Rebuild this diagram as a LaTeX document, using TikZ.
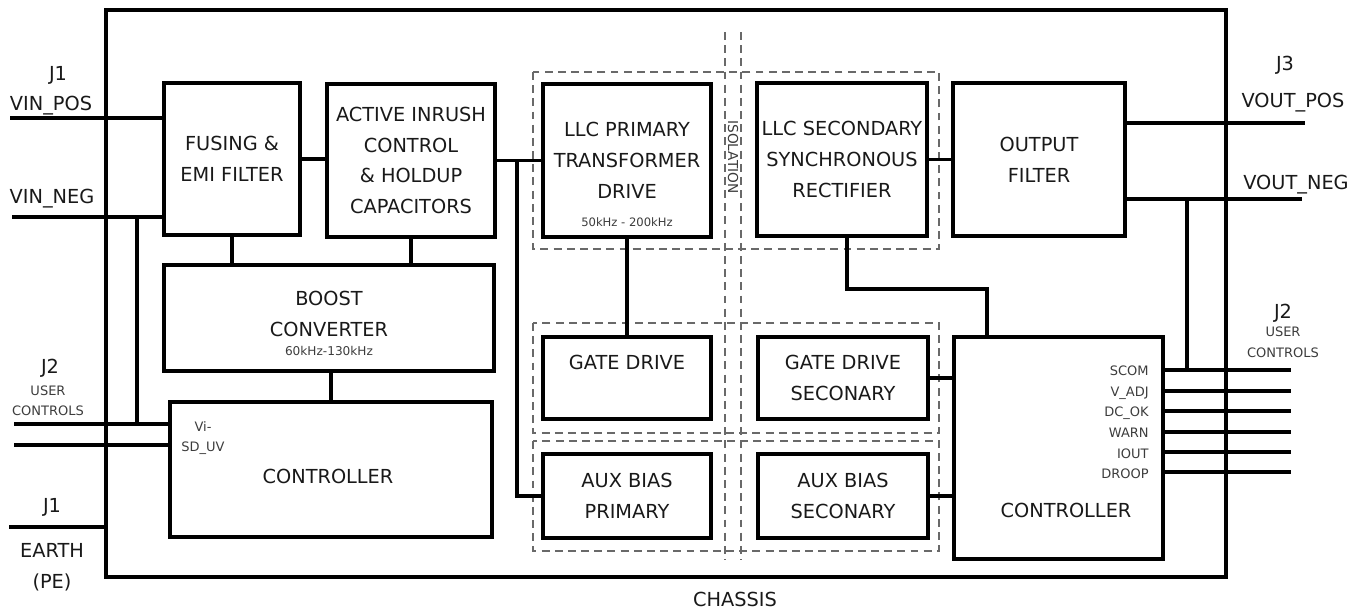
\documentclass[tikz,border=0pt]{standalone}
\usepackage{fontspec}
\setmainfont{DejaVu Sans}
\usetikzlibrary{positioning}
\definecolor{WireBlack}{RGB}{0,0,0}
\definecolor{TextBlack}{RGB}{25,25,25}
\definecolor{IsoGray}{RGB}{105,105,105}
\definecolor{LabelGray}{RGB}{60,60,60}

\begin{document}
\begin{tikzpicture}[
        x=0.02cm, y=-0.02cm,
        block/.style={
            draw=WireBlack,
            line width=1.9pt,
            rectangle,
            inner sep=0pt,
            outer sep=0pt,
            text=TextBlack,
            align=center,
            font=\fontsize{11}{17.6}\selectfont
        },
        wire/.style={draw=WireBlack, line width=1.9pt},
        isoline/.style={draw=IsoGray, line width=0.6pt, dash pattern=on 4.5pt off 3pt},
        pinlbl/.style={inner sep=0pt, anchor=base, text=TextBlack, font=\fontsize{11}{12}\selectfont},
        smalltxt/.style={inner sep=0pt, anchor=base, text=LabelGray, font=\fontsize{7.4}{8}\selectfont}
    ]
        \useasboundingbox (0,0) rectangle (1363,612);

        \draw[isoline] (533,72) rectangle (939,249);
        \draw[isoline] (533,323) rectangle (939,433);
        \draw[isoline] (533,441) rectangle (939,551);
        \draw[isoline] (725,32) -- (725,560);
        \draw[isoline] (741,32) -- (741,560);
        \node[smalltxt, anchor=center, rotate=-90, font=\fontsize{7.8}{8}\selectfont] (isotxt) at (733,157) {ISOLATION};

        \node[block, minimum width=22.4cm, minimum height=11.34cm] (chassis) at (666,293.5) {};
        \node[pinlbl] (chassistxt) at (735,606) {CHASSIS};

        \node[block, minimum width=2.72cm, minimum height=3.04cm] (fuse) at (232,159) {FUSING \&\\EMI FILTER};
        \node[block, minimum width=3.36cm, minimum height=3.06cm] (inrush) at (411,160.5) {ACTIVE INRUSH\\CONTROL\\\& HOLDUP\\CAPACITORS};
        \node[block, minimum width=6.6cm, minimum height=2.12cm, text depth=4.5pt,
            label={[smalltxt, yshift=9pt, font=\fontsize{6.9}{8}\selectfont]south:60kHz-130kHz}] (boost) at (329,318) {BOOST\\CONVERTER};
        \node[block, minimum width=6.44cm, minimum height=2.7cm] (ctrlL) at (331,469.5) {};
        \node[pinlbl] (ctrlLtxt) at (328,483) {CONTROLLER};
        \node[smalltxt] (vimtxt) at (203,431) {Vi-};
        \node[smalltxt] (sduvtxt) at (203,451) {SD\_UV};

        \node[block, minimum width=3.36cm, minimum height=3.06cm,
            label={[smalltxt, yshift=5.7pt, font=\fontsize{6.6}{8}\selectfont]south:50kHz - 200kHz}] (llcp) at (627,160.5) {LLC PRIMARY\\TRANSFORMER\\DRIVE};
        \node[block, minimum width=3.4cm, minimum height=3.06cm] (llcs) at (842,159.5) {LLC SECONDARY\\SYNCHRONOUS\\RECTIFIER};
        \node[block, minimum width=3.44cm, minimum height=3.06cm] (ofilt) at (1039,159.5) {OUTPUT\\FILTER};
        \node[block, minimum width=3.36cm, minimum height=1.64cm] (gdp) at (627,378) {GATE DRIVE\\\phantom{SECONARY}};
        \node[block, minimum width=3.4cm, minimum height=1.64cm] (gds) at (843,378) {GATE DRIVE\\SECONARY};
        \node[block, minimum width=3.36cm, minimum height=1.68cm] (auxp) at (627,496) {AUX BIAS\\PRIMARY};
        \node[block, minimum width=3.4cm, minimum height=1.68cm] (auxs) at (843,496) {AUX BIAS\\SECONARY};
        \node[block, minimum width=4.18cm, minimum height=4.44cm] (ctrlR) at (1058.5,448) {};
        \node[pinlbl] (ctrlRtxt) at (1066,517) {CONTROLLER};

        \node[pinlbl] (j1in) at (58,80) {J1};
        \node[pinlbl] (vinpostxt) at (51,110) {VIN\_POS};
        \node[pinlbl] (vinnegtxt) at (52,203) {VIN\_NEG};
        \node[pinlbl] (j2in) at (50,373) {J2};
        \node[smalltxt] (userL) at (48,395) {USER};
        \node[smalltxt] (ctrlsL) at (48,415) {CONTROLS};
        \node[pinlbl] (j1pe) at (52,512) {J1};
        \node[pinlbl] (earthtxt) at (52,557) {EARTH};
        \node[pinlbl] (petxt) at (52,588) {(PE)};
        \node[pinlbl] (j3out) at (1285,71) {J3};
        \node[pinlbl] (voutpostxt) at (1293,107) {VOUT\_POS};
        \node[pinlbl] (voutnegtxt) at (1296,189) {VOUT\_NEG};
        \node[pinlbl] (j2out) at (1283,318) {J2};
        \node[smalltxt] (userR) at (1283,336) {USER};
        \node[smalltxt] (ctrlsR) at (1283,357) {CONTROLS};

        \coordinate (vinpos) at (10,118);
        \coordinate (vinneg) at (12,217);
        \coordinate (negtap) at (137,217);
        \coordinate (vim) at (14,424);
        \coordinate (sduv) at (14,445);
        \coordinate (earth) at (9,527);
        \coordinate (auxtap) at (517,160.5);
        \coordinate (rtap) at (987,289);
        \coordinate (voutpos) at (1305,123);
        \coordinate (voutneg) at (1302,199);
        \coordinate (negtapR) at (1187,199);

        \draw[wire] (vinpos) -- (vinpos -| fuse.west);
        \draw[wire] (vinneg) -- (vinneg -| fuse.west);
        \draw[wire] (vim) -- (vim -| ctrlL.west);
        \draw[wire] (sduv) -- (sduv -| ctrlL.west);
        \draw[wire] (negtap) -- (negtap |- vim);
        \draw[wire] (earth) -- (earth -| chassis.west);
        \draw[wire] (fuse.east) -- (fuse.east -| inrush.west);
        \draw[wire] (fuse.south) -- (fuse.south |- boost.north);
        \draw[wire] (inrush.south) -- (inrush.south |- boost.north);
        \draw[wire] (ctrlL.north) -- (ctrlL.north |- boost.south);
        \draw[wire] (inrush.east) -- (llcp.west);
        \draw[wire] (auxtap) |- (auxp.west);
        \draw[wire] (llcp.south) -- (gdp.north);
        \draw[wire] (llcs.east) -- (llcs.east -| ofilt.west);
        \draw[wire] ([xshift=0.1cm]llcs.south) |- (rtap) -- (rtap |- ctrlR.north);
        \draw[wire] (gds.east) -- (gds.east -| ctrlR.west);
        \draw[wire] (auxs.east) -- (auxs.east -| ctrlR.west);
        \draw[wire] (voutpos -| ofilt.east) -- (voutpos);
        \draw[wire] (voutneg -| ofilt.east) -- (voutneg);

        \foreach \sig/\yy/\bl [count=\i] in {SCOM/370/375, V\_ADJ/391/396, DC\_OK/411/416, WARN/432/437, IOUT/452/458, DROOP/472/478} {
            \coordinate (usr\i) at (1291,\yy);
            \draw[wire] (usr\i -| ctrlR.east) -- (usr\i);
            \node[smalltxt, anchor=base east] (sig\i) at (1149,\bl) {\sig};
        }
        \draw[wire] (negtapR) -- (negtapR |- usr1);
    \end{tikzpicture}
\end{document}
